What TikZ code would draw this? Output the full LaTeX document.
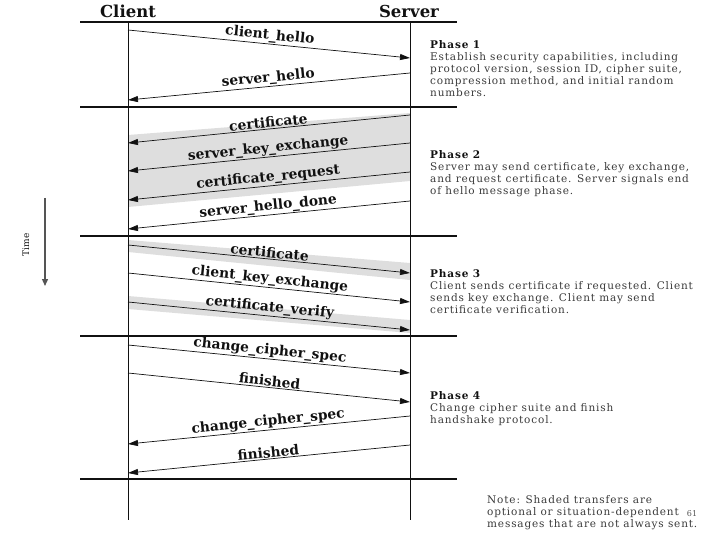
\documentclass[tikz,border=0pt]{standalone}
\usepackage{fontspec}
\setmainfont{DejaVu Serif}
\newfontfamily\widefont[LetterSpace=8]{DejaVu Serif}
\usetikzlibrary{arrows.meta,calc,positioning}
\definecolor{Ink}{HTML}{111111}
\definecolor{Note}{HTML}{3A3A3A}
\definecolor{Muted}{HTML}{555555}
\definecolor{Shade}{HTML}{DEDEDE}

\begin{document}
\begin{tikzpicture}[
  x=1pt,y=-1pt,
  rule/.style={draw=Ink,line width=2.5pt},
  life/.style={draw=Ink,line width=0.9pt},
  msg/.style={-{Triangle[length=10pt,width=6pt]},draw=Ink,line width=0.7pt},
  lbl/.style={sloped,above,midway,inner sep=1pt,text=Ink,
    font=\bfseries\fontsize{13.8}{14}\selectfont},
  band/.style={fill=Shade,draw=none},
  head/.style={anchor=base,text=Ink,font=\bfseries\fontsize{16.5}{17}\selectfont},
  phase/.style={anchor=north west,align=left,inner sep=0pt,text=Note,
    font=\widefont\fontsize{10.5}{12}\selectfont},
  timearr/.style={-{Triangle[length=7pt,width=6pt]},draw=Muted,line width=1.3pt}
]
  \useasboundingbox (0,0) rectangle (720,540);

  % end points on the two lifelines
  \coordinate (c1) at (128,30);   \coordinate (s1) at (410,58);
  \coordinate (s2) at (410,73);   \coordinate (c2) at (128,100);
  \coordinate (s3) at (410,115);  \coordinate (c3) at (128,143);
  \coordinate (s4) at (410,143);  \coordinate (c4) at (128,171);
  \coordinate (s5) at (410,172);  \coordinate (c5) at (128,200);
  \coordinate (s6) at (410,201);  \coordinate (c6) at (128,229);
  \coordinate (c7) at (128,245);  \coordinate (s7) at (410,273);
  \coordinate (c8) at (128,273);  \coordinate (s8) at (410,302);
  \coordinate (c9) at (128,302);  \coordinate (s9) at (410,330);
  \coordinate (c10) at (128,345); \coordinate (s10) at (410,373);
  \coordinate (c11) at (128,373); \coordinate (s11) at (410,402);
  \coordinate (s12) at (410,416); \coordinate (c12) at (128,444);
  \coordinate (s13) at (410,445); \coordinate (c13) at (128,473);

  % optional transfers
  \fill[band] ($(s3)+(0,-2)$) -- ($(c3)+(0,-8)$) -- ($(c5)+(0,7)$) -- ($(s5)+(0,9)$) -- cycle;
  \fill[band] ($(c7)+(0,-5)$) -- ($(s7)+(0,-10)$) -- ($(s7)+(0,7)$) -- ($(c7)+(0,7)$) -- cycle;
  \fill[band] ($(c9)+(0,-6)$) -- ($(s9)+(0,-10)$) -- ($(s9)+(0,3)$) -- ($(c9)+(0,7)$) -- cycle;

  \node[head] (client) at (128,18) {Client};
  \node[head] (server) at (409,18) {Server};

  \draw[life] (128,22) -- (128,520);
  \draw[life] (410,22) -- (410,520);

  \draw[rule] (80,22) -- (457,22);
  \draw[rule] (80,107) -- (457,107);
  \draw[rule] (80,236) -- (457,236);
  \draw[rule] (80,336) -- (457,336);
  \draw[rule] (80,479) -- (457,479);

  % phase 1
  \draw[msg] (c1) -- (s1) node[lbl] (m1) {client\_hello};
  \draw[msg] (s2) -- (c2) node[lbl] (m2) {server\_hello};
  % phase 2
  \draw[msg] (s3) -- (c3) node[lbl] (m3) {certificate};
  \draw[msg] (s4) -- (c4) node[lbl] (m4) {server\_key\_exchange};
  \draw[msg] (s5) -- (c5) node[lbl] (m5) {certificate\_request};
  \draw[msg] (s6) -- (c6) node[lbl] (m6) {server\_hello\_done};
  % phase 3
  \draw[msg] (c7) -- (s7) node[lbl] (m7) {certificate};
  \draw[msg] (c8) -- (s8) node[lbl] (m8) {client\_key\_exchange};
  \draw[msg] (c9) -- (s9) node[lbl] (m9) {certificate\_verify};
  % phase 4
  \draw[msg] (c10) -- (s10) node[lbl] (m10) {change\_cipher\_spec};
  \draw[msg] (c11) -- (s11) node[lbl] (m11) {finished};
  \draw[msg] (s12) -- (c12) node[lbl] (m12) {change\_cipher\_spec};
  \draw[msg] (s13) -- (c13) node[lbl] (m13) {finished};

  \node[phase] (p1) at (430,40) {\textcolor{Ink}{\bfseries Phase 1}\\
    Establish security capabilities, including\\
    protocol version, session ID, cipher suite,\\
    compression method, and initial random\\
    numbers.};
  \node[phase] (p2) at (430,150) {\textcolor{Ink}{\bfseries Phase 2}\\
    Server may send certificate, key exchange,\\
    and request certificate. Server signals end\\
    of hello message phase.};
  \node[phase] (p3) at (430,269) {\textcolor{Ink}{\bfseries Phase 3}\\
    Client sends certificate if requested. Client\\
    sends key exchange. Client may send\\
    certificate verification.};
  \node[phase] (p4) at (430,391) {\textcolor{Ink}{\bfseries Phase 4}\\
    Change cipher suite and finish\\
    handshake protocol.};
  \node[phase] (note) at (487,495) {Note: Shaded transfers are\\
    optional or situation-dependent\\
    messages that are not always sent.};
  \node[text=Muted,font=\fontsize{8}{8}\selectfont,inner sep=0pt] (pg) at (692,514) {61};

  % time axis
  \coordinate (t0) at (45,198);
  \coordinate (t1) at (45,286);
  \draw[timearr] (t0) -- (t1);
  \node[rotate=90,text=Ink,font=\fontsize{9}{9}\selectfont] (time) at (26,245) {Time};
\end{tikzpicture}
\end{document}
